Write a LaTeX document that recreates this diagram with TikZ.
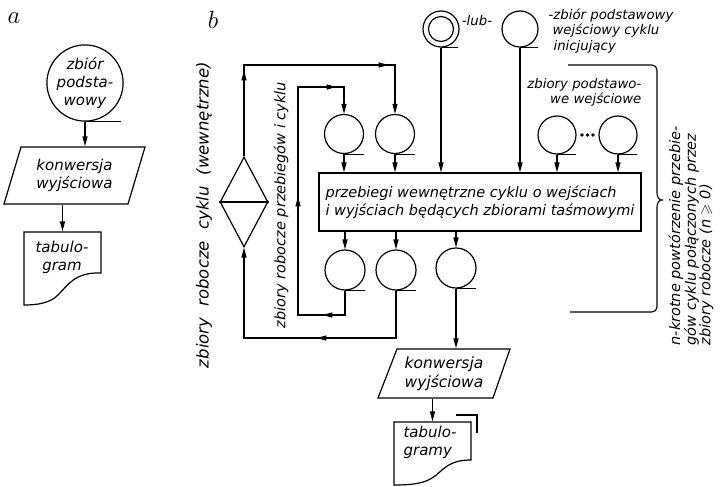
\documentclass[tikz,border=0pt]{standalone}
\usepackage{fontspec}
\usepackage{amssymb}
\setmainfont{DejaVu Sans}
\usetikzlibrary{arrows.meta,shapes.geometric,decorations.markings,calc}
\begin{document}
\begin{tikzpicture}[x=1pt,y=-1pt,line width=1.2pt,
  fa/.style={font=\itshape\fontsize{15}{18}\selectfont, align=center, inner sep=0pt},
  fk/.style={font=\itshape\fontsize{15.5}{19}\selectfont, align=center, inner sep=0pt},
  fb/.style={font=\itshape\fontsize{13.3}{15.5}\selectfont, inner sep=0pt},
  fc/.style={font=\itshape\fontsize{14.5}{17.5}\selectfont, inner sep=0pt},
  fw/.style={font=\itshape\fontsize{16.5}{18}\selectfont, inner sep=0pt},
  fn/.style={font=\itshape\fontsize{14.5}{14.5}\selectfont, inner sep=0pt},
  big/.style={font=\fontsize{28}{28}\selectfont, inner sep=0pt},
  tape/.style={circle, draw, minimum size=#1, inner sep=0pt},
  flow/.style={-{Triangle[length=10pt,width=5pt]}},
  mk/.style={postaction={decorate, decoration={markings,
      mark=at position #1 with {\arrow{Triangle[length=10pt,width=5pt]}}}}},
  hold/.style={inner sep=0pt, draw=none}]

\fill[white] (0,0) rectangle (723,487);
\useasboundingbox (0,0) rectangle (723,487);

% ---------------- panel a ----------------
\node[big] (la) at (14,18) {$a$};
\node[tape=72pt, fa] (ca) at (85,83) {zbiór\\podsta-\\wowy};
\draw (ca.south) -- ++(36,0);

\node[fa, minimum width=124pt, minimum height=57pt] (pa) at (74.5,175.5) {konwersja\\wyjściowa};
\draw (21,147) -- (145,147) -- (128,204) -- (4,204) -- cycle;

\node[hold, minimum width=77pt, minimum height=73pt] (ta) at (62.5,268.5) {};
\draw (24,232) -- (101,232) -- (101,273)
  .. controls (75,272) and (68,285) .. (58,295)
  .. controls (50,303) and (38,305) .. (24,305) -- cycle;
\node[fa] (tat) at (62,257) {tabulo-\\gram};

\draw[flow] (ca.south) -- (ca.south |- pa.north);
\draw[flow] (ta.north |- pa.south) -- (ta.north);

% ---------------- panel b ----------------
\node[big] (lb) at (213,20) {$b$};

% initiating input file (either symbol)
\node[tape=36pt] (cd) at (441,29) {};
\node[tape=25pt] (cdi) at (cd) {};
\draw (cd.south) -- ++(17,0);
\node[fb] (lub) at (477,21) {-lub-};
\node[tape=36pt] (cs) at (520,29) {};
\draw (cs.south) -- ++(18,0);
\node[fb, anchor=north west, align=left] (lzi) at (548,8)
  {-zbiór podstawowy\\\hspace*{4pt}wejściowy cyklu\\\hspace*{5pt}inicjujący};

% basic input files
\node[fb, anchor=east, align=right] (lzp) at (642,92.5) {zbiory podstawo-\\we wejściowe};
\node[tape=38pt] (ci1) at (557,135) {};
\draw (ci1.south) -- ++(19,0);
\node[tape=38pt] (ci2) at (618,135) {};
\draw (ci2.south) -- ++(19,0);
\foreach \f in {0.41,0.5,0.59}
  \fill ($(ci1)!\f!(ci2)$) circle [radius=1.9pt];

% working files entering the run
\node[tape=39pt] (ct1) at (344,134) {};
\draw (ct1.south) -- ++(20,0);
\node[tape=39pt] (ct2) at (395,134) {};
\draw (ct2.south) -- ++(20,0);

% processing box
\node[draw, fc, align=left, minimum width=322pt, minimum height=58pt] (bx) at (480,202)
  {przebiegi wewnętrzne cyklu o wejściach\\i wyjściach będących zbiorami taśmowymi};

% working files leaving the run
\node[tape=40pt] (cb1) at (345,270) {};
\draw (cb1.south) -- ++(20,0);
\node[tape=40pt] (cb2) at (396,270) {};
\draw (cb2.south) -- ++(20,0);
\node[tape=40pt] (cb3) at (456,268) {};
\draw (cb3.south) -- ++(20,0);

% connective (diamond)
\node[diamond, draw, aspect=0.53, minimum width=48pt, minimum height=90pt, inner sep=0pt] (dm) at (244,202) {};
\draw (dm.west) -- (dm.east);

% inputs into the box
\draw[flow] (cd.south) -- (cd.south |- bx.north);
\draw[flow] (cs.south) -- (cs.south |- bx.north);
\draw[flow] (ci1.south) -- (ci1.south |- bx.north);
\draw[flow] (ci2.south) -- (ci2.south |- bx.north);
\draw[flow] (ct1.south) -- (ct1.south |- bx.north);
\draw[flow] (ct2.south) -- (ct2.south |- bx.north);

% outputs of the box
\draw[flow] (bx.south -| cb1.north) -- (cb1.north);
\draw[flow] (bx.south -| cb2.north) -- (cb2.north);
\draw[flow] (bx.south -| cb3.north) -- (cb3.north);

% feedback of working files between runs
\coordinate (i1) at (345,315);
\coordinate (i2) at (298,315);
\coordinate (i3) at (298,87);
\coordinate (i4) at (344,87);
\draw[flow, mk=47pt, mk=190pt, mk=338pt] (cb1.south) -- (i1) -- (i2) -- (i3) -- (i4) -- (ct1.north);

% feedback of working files of the cycle
\coordinate (o1) at (396,338);
\coordinate (o2) at (244,338);
\coordinate (o3) at (244,65);
\coordinate (o4) at (395,65);
\draw[flow, mk=127pt] (cb2.south) -- (o1) -- (o2) -- (dm.south);
\draw[flow, mk=86pt, mk=236pt] (dm.north) -- (o3) -- (o4) -- (ct2.north);

\node[fw, rotate=90] (lw) at (204,215) {\makebox[306pt][s]{zbiory robocze cyklu (wewnętrzne)}};
\node[fc, rotate=90] (lp) at (281,205) {zbiory robocze przebiegów i cyklu};

% output conversion and listings
\node[fk, minimum width=113pt, minimum height=49pt] (pb) at (444,373.5) {konwersja\\wyjściowa};
\draw (397,349) -- (510,349) -- (493,398) -- (378,398) -- cycle;
\draw[flow] (cb3.south) -- (cb3.south |- pb.north);

\node[hold, minimum width=77pt, minimum height=63pt] (tb) at (432.5,453.5) {};
\draw (394,422) -- (471,422) -- (471,460)
  .. controls (450,460) and (445,468) .. (435,476)
  .. controls (425,484) and (410,485) .. (394,485) -- cycle;
\draw (456,415) -- (477,415) -- (477,433);
\node[fa, align=left] (tbt) at (430,442) {tabulo-\\gramy};
\draw[flow] (tb.north |- pb.south) -- (tb.north);

% repetition brace
\draw[line width=1.1pt] (568,65) -- (652,65) to[out=0,in=90] (657,70) -- (657,193)
  to[out=-90,in=180] (662,200) to[out=180,in=90] (657,207) -- (657,307)
  to[out=-90,in=0] (652,312) -- (570,312);
\node[fn, rotate=90, anchor=north west, align=left] (nk) at (668,346)
  {n-krotne powtórzenie przebie-\\gów cyklu połączonych przez\\zbiory robocze (n $\geqslant$ 0)};

\end{tikzpicture}
\end{document}
